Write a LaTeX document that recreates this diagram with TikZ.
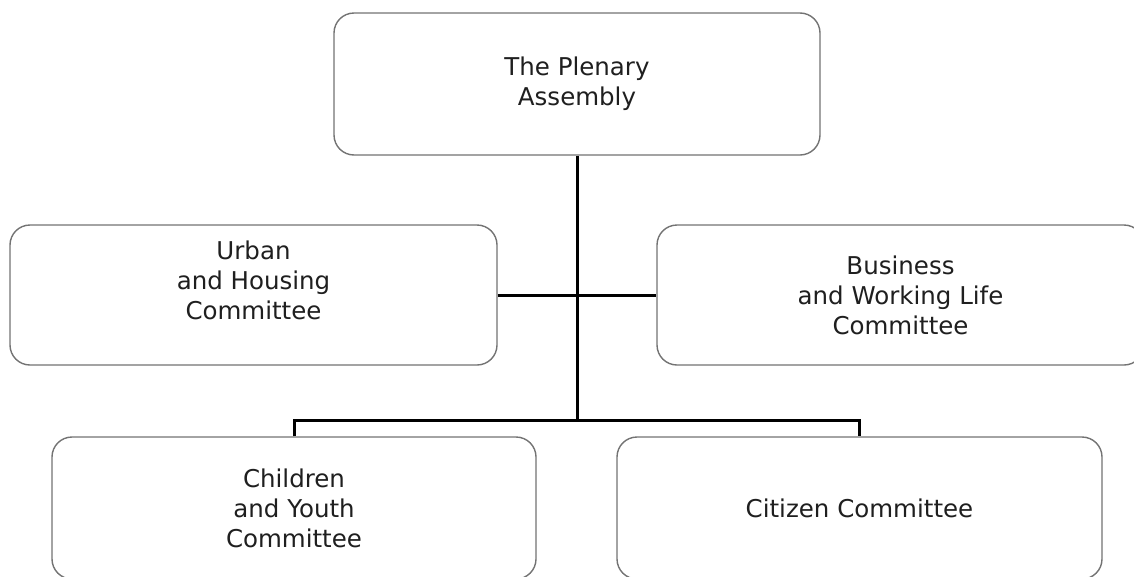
\documentclass[tikz,border=0pt]{standalone}
\usepackage{fontspec}
\setmainfont{DejaVu Sans}
\begin{document}
\begin{tikzpicture}[x=1pt,y=-1pt,
  orgbox/.style={draw=black!55, line width=1.4pt, rounded corners=20pt, fill=white,
    minimum height=140pt, inner sep=0pt, align=center, text=black!88,
    font=\fontsize{24.5pt}{30pt}\selectfont},
  link/.style={draw=black, line width=3pt}]
\useasboundingbox (0,0) rectangle (1134,576);
\node[orgbox, minimum width=486pt, minimum height=142pt] (top) at (577,84) {The Plenary\\Assembly};
\node[orgbox, minimum width=487pt] (lm) at (253.5,295) {Urban\\and Housing\\Committee\\\mbox{}};
\node[orgbox, minimum width=487pt] (rm) at (900.5,295) {Business\\and Working Life\\Committee};
\node[orgbox, minimum width=484pt, minimum height=142pt] (bl) at (294,508) {Children\\and Youth\\Committee};
\node[orgbox, minimum width=485pt, minimum height=142pt] (br) at (859.5,508) {Citizen Committee};
\coordinate (j) at (577,420);
\draw[link] (top.south) -- (j);
\draw[link] (lm.east) -- (rm.west);
\draw[link] (bl.north) |- (j) -| (br.north);
\end{tikzpicture}
\end{document}
